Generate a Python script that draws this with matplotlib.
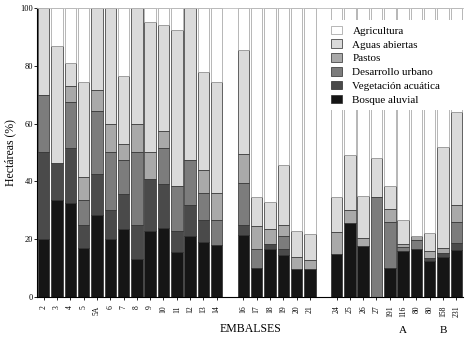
import matplotlib.pyplot as plt
import numpy as np

plt.rcParams['font.family'] = ['Liberation Serif', 'DejaVu Serif']

# --- DATA (percent of area per reservoir) ---
embalses = ['2', '3', '4', '5', '5A', '6', '7', '8', '9', '10', '11', '12', '13', '14',
            '16', '17', '18', '19', '20', '21',
            '24', '25', '26', '27', '191', '116', '80', '80', '158', '231']
grupo = [0] * 14 + [1] * 6 + [2] * 10

bosque_aluvial = [20, 33.5, 32.5, 17, 28.5, 20, 23.5, 13, 23, 24, 15.5, 21, 19, 18,
                  21.5, 10, 16.5, 14.5, 9.7, 9.7,
                  15, 25.5, 17.5, 0, 10, 16, 16.5, 12.5, 14, 16.3]
veg_acuatica = [30, 13, 19, 8, 14, 10, 12, 12, 18, 15, 7.5, 11, 7.5, 0,
                3.5, 0, 2, 2, 0, 0,
                0, 0, 0, 0, 0, 0, 0, 1, 1.2, 2.3]
des_urbano = [20, 0, 16, 8.5, 22, 20, 12, 25, 0, 12.5, 15.5, 15.5, 9.5, 8.5,
              14.5, 6.5, 0, 4.5, 0, 0,
              0, 0, 0, 34.5, 16, 1.2, 3.2, 0, 0, 7.5]
pastos = [0, 0, 5.5, 8, 7, 10, 5.5, 10, 9, 6, 0, 0, 8, 9.5,
          10, 8, 5, 4, 4.3, 3,
          7.5, 4.5, 3, 0, 4.5, 1, 1.5, 2.3, 1.8, 5.7]
aguas_abiertas = [30, 40.5, 8, 33, 28.5, 40, 23.5, 40, 45, 36.5, 54, 52.5, 34, 38.5,
                  36, 10, 9.5, 20.5, 9, 9,
                  12, 19, 14.5, 13.5, 8, 8.3, 0, 6.5, 35, 32.2]
agricultura = [0, 13, 19, 25.5, 0, 0, 23.5, 0, 5, 6, 7.5, 0, 22, 25.5,
               14.5, 65.5, 67, 54.5, 77, 78.3,
               65.5, 51, 65, 52, 61.5, 73.5, 78.8, 77.7, 48, 36]

series = [
    ('Bosque aluvial', bosque_aluvial, '#151515', '#2a2a2a'),
    ('Vegetación acuática', veg_acuatica, '#4a4a4a', '#2a2a2a'),
    ('Desarrollo urbano', des_urbano, '#7c7c7c', '#2a2a2a'),
    ('Pastos', pastos, '#a9a9a9', '#2a2a2a'),
    ('Aguas abiertas', aguas_abiertas, '#dadada', '#2a2a2a'),
    ('Agricultura', agricultura, '#ffffff', '#9a9a9a'),
]

x = np.arange(len(embalses)) + np.array(grupo)

fig = plt.figure(figsize=(4.71, 3.40), dpi=100)
ax = fig.add_axes([0.0786, 0.1265, 0.9044, 0.85])

bottom = np.zeros(len(embalses))
handles = []
for name, vals, col, ec in series:
    vals = np.array(vals, dtype=float)
    b = ax.bar(x, vals, bottom=bottom, width=0.86, color=col,
               edgecolor=ec, linewidth=0.5, label=name)
    handles.append(b)
    bottom += vals

ax.set_xlim(-0.5, x[-1] + 0.5)
ax.set_ylim(0, 100)
ax.set_yticks([0, 20, 40, 60, 80, 100])
ax.tick_params(axis='y', labelsize=6, length=2, width=0.6, pad=1)
ax.set_xticks(x)
ax.set_xticklabels(embalses, rotation=90, fontsize=5.5)
ax.tick_params(axis='x', length=2, width=0.6, pad=4)
ax.set_ylabel('Hectáreas (%)', fontsize=8.5, labelpad=3)
ax.set_xlabel('EMBALSES', fontsize=8.5, labelpad=4)

ax.spines['right'].set_visible(False)
ax.spines['top'].set_color('#bbbbbb')
ax.spines['top'].set_linewidth(0.6)
ax.spines['left'].set_linewidth(0.8)
ax.spines['bottom'].set_linewidth(0.8)

# group markers A and B under reservoirs
trans = ax.get_xaxis_transform()
ax.text(x[embalses.index('116')], -0.1, 'A', transform=trans, ha='center', va='top', fontsize=8)
ax.text(x[embalses.index('158')], -0.1, 'B', transform=trans, ha='center', va='top', fontsize=8)

leg = ax.legend(handles[::-1], [s[0] for s in series][::-1],
                loc='upper left', bbox_to_anchor=(0.678, 0.63, 0.322, 0.328),
                mode='expand', frameon=True, fancybox=False, framealpha=1,
                edgecolor='white', fontsize=8, labelspacing=0.33,
                handlelength=1.0, handleheight=0.8, handletextpad=0.9,
                borderaxespad=0, borderpad=0.5)
leg.get_frame().set_linewidth(0)

fig.savefig('out.png', dpi=100)
